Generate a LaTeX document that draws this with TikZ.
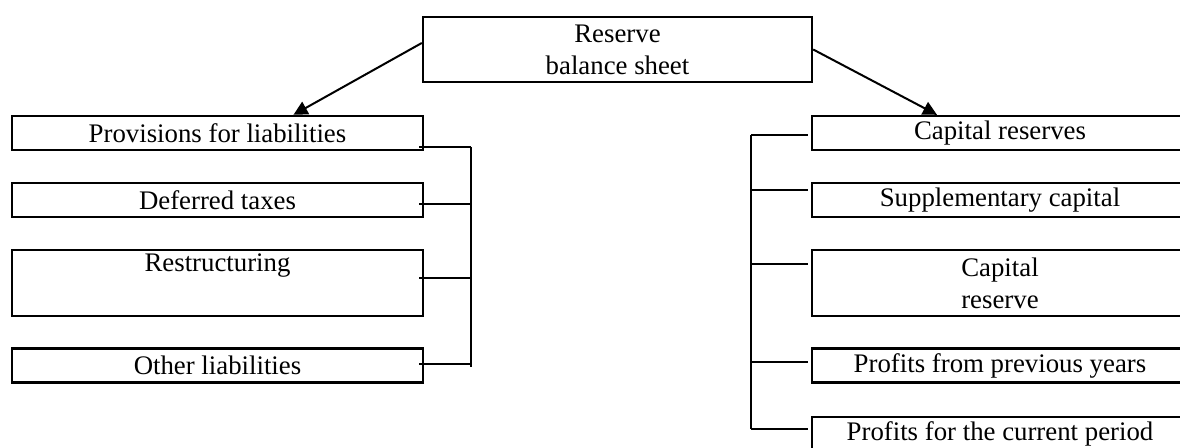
\documentclass[tikz,border=0pt]{standalone}
\usepackage{fontspec}
\setmainfont{Liberation Serif}
\usetikzlibrary{arrows.meta}
\begin{document}
\begin{tikzpicture}[x=0.5pt, y=-0.5pt,
	box/.style={draw, line width=1.2pt, inner sep=0pt, align=center, font=\fontsize{13.4}{16}\selectfont},
	leftbox/.style={box, minimum width=205.5pt, minimum height=17pt},
	rightbox/.style={box, minimum width=188pt, minimum height=17pt},
	link/.style={line width=0.8pt},
	arrow/.style={line width=1pt, -{Triangle[length=7pt,width=7pt]}}]
	\useasboundingbox (0,0) rectangle (1180,448);
	\node[box, minimum width=194.5pt, minimum height=32.5pt] (rb) at (617.5,49.5) {Reserve\\balance sheet};
	% left side
	\node[leftbox] (pl) at (217.5,133) {Provisions for liabilities};
	\node[leftbox] (dt) at (217.5,200) {Deferred taxes};
	\node[leftbox, minimum height=33pt] (re) at (217.5,283) {Restructuring\\\strut};
	\node[leftbox] (ol) at (217.5,365.5) {Other liabilities};
	% right side
	\node[rightbox] (cr) at (1000,133) {Capital reserves};
	\node[rightbox] (sc) at (1000,200) {Supplementary capital};
	\node[rightbox, minimum height=33pt] (ck) at (1000,283) {Capital\\reserve};
	\node[rightbox] (pp) at (1000,365.5) {Profits from previous years};
	\node[rightbox] (pc) at (1000,434) {Profits for the current period};
	\draw[arrow] ([yshift=3.25pt]rb.west) -- ([xshift=38pt]pl.north);
	\draw[arrow] (rb.east) -- ([xshift=-31.5pt]cr.north);
	% brackets
	\coordinate (lspine) at (471,0);
	\coordinate (rspine) at (751,0);
	\draw[link] (lspine |- 0,147) -- (lspine |- 0,367);
	\foreach \n/\y in {pl/147, dt/204, re/278, ol/364}
		\draw[link] (\n.east |- 0,\y) ++(-5,0) -- (lspine |- 0,\y);
	\draw[link] (rspine |- 0,135) -- (rspine |- 0,429);
	\foreach \n/\y in {cr/135, sc/190, ck/264, pp/362, pc/429}
		\draw[link] (\n.west |- 0,\y) ++(-3,0) -- (rspine |- 0,\y);
\end{tikzpicture}
\end{document}
